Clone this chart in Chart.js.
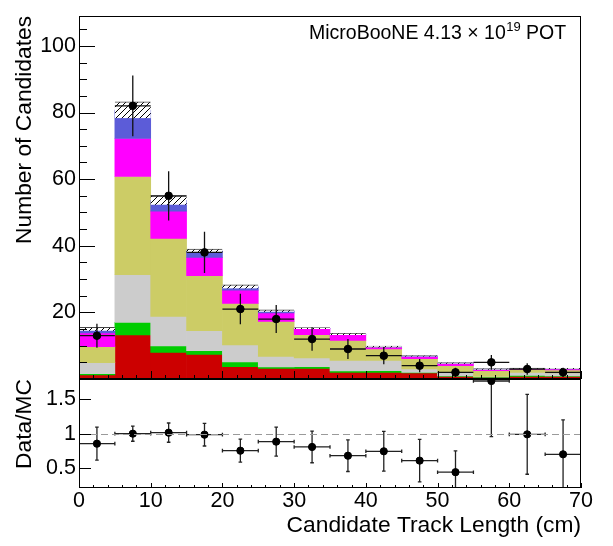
<!DOCTYPE html>
<html>
<head>
<meta charset="utf-8">
<script src="https://cdn.jsdelivr.net/npm/chart.js@4.4.0/dist/chart.umd.min.js"></script>
<style>
    html, body { margin: 0; padding: 0; background: #fff; }
    #wrap { position: relative; width: 613px; height: 546px; }
    #wrap canvas { position: absolute; left: 0; top: 0; }
</style>
</head>
<body>
<div id="wrap">
    <canvas id="main-canvas" width="613" height="546"></canvas>
    <canvas id="ratio-canvas" width="613" height="546"></canvas>
</div>
<script>
// bins of 5 cm, centres
const binCenters = [2.5, 7.5, 12.5, 17.5, 22.5, 27.5, 32.5, 37.5, 42.5, 47.5, 52.5, 57.5, 62.5, 67.5];
const binHalf = 2.5;

// stacked MC components, bottom to top
const mcRed = [1.2, 13.2, 8.0, 7.4, 3.7, 3.2, 3.2, 2.0, 2.0, 1.8, 0.8, 0.5, 0.8, 0.8];
const mcGreen = [0.4, 3.8, 1.9, 1.1, 1.4, 0.4, 0.5, 0.4, 0.5, 0.2, 0.1, 0.1, 0.3, 0.1];
const mcGray = [3.3, 14.3, 8.9, 6.0, 5.1, 3.2, 2.6, 3.2, 3.1, 1.0, 1.3, 0.2, 0.9, 0.9];
const mcKhaki = [4.8, 29.5, 23.4, 16.5, 12.5, 10.5, 7.0, 6.0, 3.4, 3.1, 1.8, 1.7, 0.9, 0.9];
const mcMagenta = [4.1, 11.4, 8.2, 5.5, 4.0, 2.5, 1.8, 1.7, 0.6, 0.7, 0.7, 0.4, 0.2, 0.3];
const mcBlue = [1.2, 8.55, 3.25, 1.9, 1.05, 0.7, 0.1, 0.2, 0.1, 0.1, 0.1, 0.1, 0.1, 0.1];
const mcErr = [0.5, 2.45, 1.35, 0.6, 0.55, 0.3, 0.2, 0.2, 0.15, 0.15, 0.1, 0.1, 0.1, 0.1];

// data
const dataCounts = [13, 82, 55, 38, 21, 18, 12, 9, 7, 4, 2, 5, 3, 2];
const dataErr = [3.6, 9.1, 7.4, 6.2, 4.6, 4.2, 3.5, 3.0, 2.6, 2.0, 1.4, 2.2, 1.7, 1.4];

// data / MC
const ratio = [0.855, 1.0, 1.015, 0.986, 0.753, 0.884, 0.807, 0.68, 0.744, 0.608, 0.44, 1.766, 0.99, 0.70];
const ratioErr = [0.24, 0.11, 0.14, 0.165, 0.167, 0.21, 0.23, 0.23, 0.29, 0.31, 0.31, 0.81, 0.58, 0.5];

const yTicksMain = [20, 40, 60, 80, 100];
const yTicksRatio = [0.5, 1, 1.5];
const xTicks = [0, 10, 20, 30, 40, 50, 60, 70];

const FONT = '"Liberation Sans", Arial, Helvetica, sans-serif';
Chart.defaults.font.family = FONT;
Chart.defaults.color = "#000";

function hatchPattern() {
    const c = document.createElement("canvas");
    c.width = 6;
    c.height = 6;
    const g = c.getContext("2d");
    g.fillStyle = "#fff";
    g.fillRect(0, 0, 6, 6);
    g.strokeStyle = "#000";
    g.lineWidth = 1;
    g.beginPath();
    g.moveTo(0, 6); g.lineTo(6, 0);
    g.moveTo(-1, 1); g.lineTo(1, -1);
    g.moveTo(5, 7); g.lineTo(7, 5);
    g.stroke();
    return g.createPattern(c, "repeat");
}

// ROOT-like frame with ticks drawn inside
const rootFrame = {
    id: "rootFrame",
    afterDraw(chart, args, o) {
        const { ctx, chartArea: a } = chart;
        const xs = chart.scales.x;
        const ys = chart.scales.y;
        ctx.save();
        if (o.refLine !== undefined) {
            const py = Math.round(ys.getPixelForValue(o.refLine)) + 0.5;
            ctx.strokeStyle = "#9a9a9a";
            ctx.lineWidth = 1.2;
            ctx.setLineDash([7, 4]);
            ctx.beginPath();
            ctx.moveTo(a.left, py);
            ctx.lineTo(a.right, py);
            ctx.stroke();
            ctx.setLineDash([]);
        }
        ctx.strokeStyle = "#000";
        ctx.lineWidth = 1;
        ctx.beginPath();
        for (let k = 0; k * o.xMinor <= xs.max + 1e-9; k++) {
            const px = Math.round(xs.getPixelForValue(xs.min + k * o.xMinor)) + 0.5;
            const len = k % o.xEvery === 0 ? o.xMajorLen : o.xMinorLen;
            ctx.moveTo(px, a.bottom);
            ctx.lineTo(px, a.bottom - len);
        }
        for (let k = Math.ceil(ys.min / o.yMinor); k * o.yMinor <= ys.max + 1e-9; k++) {
            const py = Math.round(ys.getPixelForValue(k * o.yMinor)) + 0.5;
            const len = k % o.yEvery === 0 ? o.yMajorLen : o.yMinorLen;
            ctx.moveTo(a.left, py);
            ctx.lineTo(a.left + len, py);
        }
        ctx.stroke();
        ctx.strokeRect(Math.round(a.left) + 0.5, Math.round(a.top) + 0.5,
            Math.round(a.width) - 1, Math.round(a.height) - 1);

        if (o.label) {
            let x = 309;
            ctx.fillStyle = "#000";
            ctx.textBaseline = "alphabetic";
            ctx.font = "19.5px " + FONT;
            const part1 = "MicroBooNE 4.13 \u00d7 10";
            ctx.fillText(part1, x, 39);
            x += ctx.measureText(part1).width;
            ctx.font = "13px " + FONT;
            ctx.fillText("19", x + 0.5, 31);
            x += ctx.measureText("19").width + 0.5;
            ctx.font = "19.5px " + FONT;
            ctx.fillText(" POT", x, 39);
        }
        ctx.restore();
    },
};

// error bars under the data markers
const errorBars = {
    id: "errorBars",
    beforeDatasetDraw(chart, args, o) {
        if (args.meta.type !== "scatter") return;
        const { ctx, chartArea: a } = chart;
        const xs = chart.scales.x;
        const ys = chart.scales.y;
        ctx.save();
        ctx.beginPath();
        ctx.rect(a.left, a.top, a.width, a.height);
        ctx.clip();
        ctx.strokeStyle = o.color;
        ctx.lineWidth = o.width;
        ctx.beginPath();
        o.y.forEach((v, i) => {
            const px = xs.getPixelForValue(o.x[i]);
            const py = ys.getPixelForValue(v);
            const x0 = xs.getPixelForValue(o.x[i] - o.xErr);
            const x1 = xs.getPixelForValue(o.x[i] + o.xErr);
            const y0 = ys.getPixelForValue(v - o.yErr[i]);
            const y1 = ys.getPixelForValue(v + o.yErr[i]);
            ctx.moveTo(x0, py); ctx.lineTo(x1, py);
            ctx.moveTo(px, y0); ctx.lineTo(px, y1);
            if (o.cap) {
                ctx.moveTo(px - o.cap, y0); ctx.lineTo(px + o.cap, y0);
                ctx.moveTo(px - o.cap, y1); ctx.lineTo(px + o.cap, y1);
                ctx.moveTo(x0, py - o.cap); ctx.lineTo(x0, py + o.cap);
                ctx.moveTo(x1, py - o.cap); ctx.lineTo(x1, py + o.cap);
            }
        });
        ctx.stroke();
        ctx.restore();
    },
};

// floating bars for the stack
const layers = [
    { label: "red", values: mcRed, color: "#cc0000" },
    { label: "green", values: mcGreen, color: "#00cc00" },
    { label: "gray", values: mcGray, color: "#cccccc" },
    { label: "khaki", values: mcKhaki, color: "#cccc66" },
    { label: "magenta", values: mcMagenta, color: "#ff00ff" },
    { label: "blue", values: mcBlue, color: "#5c5cd8" },
];
let base = binCenters.map(() => 0);
const stackSets = layers.map((layer, li) => {
    const pts = layer.values.map((v, i) => ({ x: binCenters[i], y: [base[i], base[i] + v] }));
    base = base.map((b, i) => b + layer.values[i]);
    return {
        type: "bar",
        label: layer.label,
        data: pts,
        backgroundColor: layer.color,
        borderWidth: 0,
        grouped: false,
        barPercentage: 1,
        categoryPercentage: 1,
        order: 10 - li,
    };
});
const hatchSet = {
    type: "bar",
    label: "MC stat",
    data: base.map((t, i) => ({ x: binCenters[i], y: [t - mcErr[i], t + mcErr[i]] })),
    backgroundColor: hatchPattern(),
    borderColor: "#444",
    borderWidth: { top: 1, bottom: 0, left: 0, right: 0 },
    borderSkipped: false,
    grouped: false,
    barPercentage: 1,
    categoryPercentage: 1,
    order: 2,
};
const dataSet = {
    type: "scatter",
    label: "Data",
    data: dataCounts.map((v, i) => ({ x: binCenters[i], y: v })),
    backgroundColor: "#000",
    borderColor: "#000",
    pointRadius: 3.8,
    clip: 0,
    order: 0,
};

new Chart(document.querySelector("#main-canvas"), {
    type: "scatter",
    data: { datasets: [dataSet, hatchSet, ...stackSets] },
    options: {
        responsive: false,
        animation: false,
        events: [],
        layout: { padding: { top: 2, right: 32, bottom: 167, left: 0 } },
        plugins: {
            legend: { display: false },
            tooltip: { enabled: false },
            rootFrame: { xMinor: 2, xEvery: 5, xMajorLen: 8, xMinorLen: 4, yMinor: 5, yEvery: 4, yMajorLen: 16, yMinorLen: 8, label: true },
            errorBars: { x: binCenters, y: dataCounts, yErr: dataErr, xErr: binHalf, color: "#111", width: 1.3, cap: 0 },
        },
        scales: {
            x: { type: "linear", min: 0, max: 70, offset: false, display: false },
            y: {
                min: 0,
                max: 109,
                afterBuildTicks: (s) => { s.ticks = yTicksMain.map((v) => ({ value: v })); },
                afterFit: (s) => { s.width = 79; },
                grid: { display: false, drawTicks: false },
                border: { display: false },
                ticks: { font: { size: 21.5 }, padding: 3, color: "#000" },
                title: { display: true, text: "Number of Candidates", align: "end", font: { size: 22.8 }, padding: { top: 11.5, bottom: 0 }, color: "#000" },
            },
        },
    },
    plugins: [rootFrame, errorBars],
});

new Chart(document.querySelector("#ratio-canvas"), {
    type: "scatter",
    data: {
        datasets: [{
            label: "Data/MC",
            data: ratio.map((v, i) => ({ x: binCenters[i], y: v })),
            backgroundColor: "#000",
            borderColor: "#000",
            pointRadius: 3.6,
            clip: 0,
        }],
    },
    options: {
        responsive: false,
        animation: false,
        events: [],
        layout: { padding: { top: 379, right: 32, bottom: 0, left: 0 } },
        plugins: {
            legend: { display: false },
            tooltip: { enabled: false },
            rootFrame: { xMinor: 2, xEvery: 5, xMajorLen: 5, xMinorLen: 3, yMinor: 0.5, yEvery: 1, yMajorLen: 12, yMinorLen: 6, refLine: 1 },
            errorBars: { x: binCenters, y: ratio, yErr: ratioErr, xErr: binHalf, color: "#222", width: 1.3, cap: 1.8 },
        },
        scales: {
            x: {
                type: "linear",
                min: 0,
                max: 70,
                offset: false,
                afterBuildTicks: (s) => { s.ticks = xTicks.map((v) => ({ value: v })); },
                afterFit: (s) => { s.height = 58; },
                grid: { display: false, drawTicks: false },
                border: { display: false },
                ticks: { font: { size: 21.5 }, padding: 0, maxRotation: 0, color: "#000" },
                title: { display: true, text: "Candidate Track Length (cm)", align: "end", font: { size: 22.8 }, padding: { top: 0, bottom: 7 }, color: "#000" },
            },
            y: {
                min: 0.21,
                max: 1.795,
                afterBuildTicks: (s) => { s.ticks = yTicksRatio.map((v) => ({ value: v })); },
                afterFit: (s) => { s.width = 79; },
                grid: { display: false, drawTicks: false },
                border: { display: false },
                ticks: { font: { size: 21.5 }, padding: 3, color: "#000", callback: (v) => String(v) },
                title: { display: true, text: "Data/MC", align: "end", font: { size: 22.8 }, padding: { top: 11.5, bottom: 0 }, color: "#000" },
            },
        },
    },
    plugins: [rootFrame, errorBars],
});
</script>
</body>
</html>
